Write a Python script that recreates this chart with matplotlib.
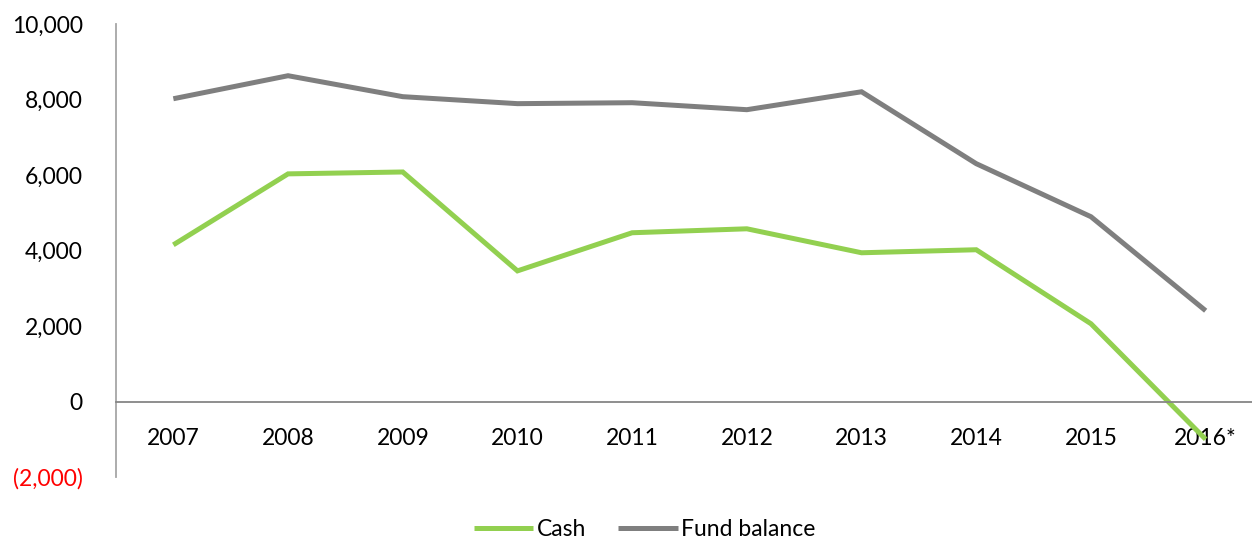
import matplotlib
matplotlib.use("Agg")
import matplotlib.pyplot as plt

years = ["2007", "2008", "2009", "2010", "2011", "2012", "2013", "2014", "2015", "2016*"]
cash = [4150, 6030, 6080, 3460, 4470, 4575, 3940, 4020, 2060, -1000]
fund_balance = [8020, 8630, 8075, 7890, 7915, 7730, 8205, 6300, 4895, 2405]
y_ticks = [-2000, 0, 2000, 4000, 6000, 8000, 10000]

plt.rcParams['font.family'] = ['Lato', 'DejaVu Sans']

fig = plt.figure(figsize=(12.52, 5.42), dpi=100)
ax = fig.add_axes([116/1252, 1-477/542, (1263-116)/1252, (477-24)/542])

x = list(range(len(years)))
green = "#92D050"
grey = "#7F7F7F"
l1, = ax.plot(x, cash, color=green, lw=3.6, solid_capstyle='butt', solid_joinstyle='miter', label="Cash")
l2, = ax.plot(x, fund_balance, color=grey, lw=3.6, solid_capstyle='butt', solid_joinstyle='miter', label="Fund balance")

ax.set_xlim(-0.5, len(years) - 0.5)
ax.set_ylim(-2000, 10000)

for s in ['top', 'right']:
    ax.spines[s].set_visible(False)
ax.spines['bottom'].set_position(('data', 0))
ax.spines['bottom'].set_color('#868686')
ax.spines['bottom'].set_linewidth(1.3)
ax.spines['left'].set_color('#A6A6A6')
ax.spines['left'].set_linewidth(1.3)

ax.set_xticks(x)
ax.set_xticklabels(years, fontsize=16.5)
ax.tick_params(axis='x', length=0, pad=19)

def fmt(v):
    return f"({abs(v):,})" if v < 0 else f"{v:,}"

ax.set_yticks(y_ticks)
ax.set_yticklabels([fmt(v) for v in y_ticks], fontsize=16.5)
ax.tick_params(axis='y', length=0, pad=24)
for lab, v in zip(ax.get_yticklabels(), y_ticks):
    if v < 0:
        lab.set_color('red')

fig.legend(handles=[l1, l2], loc='center', bbox_to_anchor=(0.515, 1-530/542), ncol=2,
           frameon=False, fontsize=16.5, handlelength=2.6, handletextpad=0.15, columnspacing=1.4)

fig.savefig("out.png", dpi=100)
